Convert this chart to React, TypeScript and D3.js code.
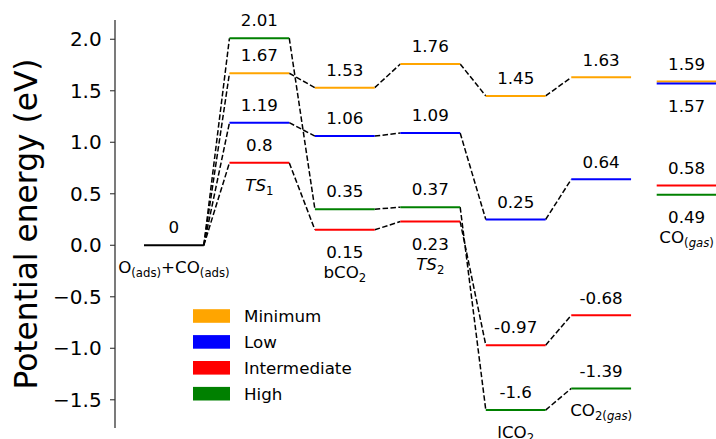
import React from "react";
import * as d3 from "d3";

// Reaction steps along the path
const stepKeys = ["start", "TS1", "bCO2", "TS2", "lCO2", "CO2gas", "COgas"];

// Relative energies (eV) per coverage case
const seriesNames = ["Minimum", "Low", "Intermediate", "High"];
const seriesColors = ["#FFA500", "#0000FF", "#FF0000", "#008000"];
const minimumVals = [0, 1.67, 1.53, 1.76, 1.45, 1.63, 1.59];
const lowVals = [0, 1.19, 1.06, 1.09, 0.25, 0.64, 1.57];
const intermediateVals = [0, 0.8, 0.15, 0.23, -0.97, -0.68, 0.58];
const highVals = [0, 2.01, 0.35, 0.37, -1.6, -1.39, 0.49];

// Where each value label sits: "a" above the level, "b" below, "-" none
const minimumSide = ["-", "a", "a", "a", "a", "a", "a"];
const lowSide = ["-", "a", "a", "a", "a", "a", "b"];
const intermediateSide = ["-", "a", "b", "b", "a", "a", "a"];
const highSide = ["-", "a", "a", "a", "a", "a", "b"];

// Series whose level carries the step name underneath (-1: the shared start level)
const nameUnder = [-1, 2, 2, 2, 3, 3, 3];

const yTicks = [-1.5, -1.0, -0.5, 0.0, 0.5, 1.0, 1.5, 2.0];

type Part = { t: string; sub?: boolean; it?: boolean };
const stepNames: Part[][] = [
  [{ t: "O" }, { t: "(ads)", sub: true }, { t: "+CO" }, { t: "(ads)", sub: true }],
  [{ t: "TS", it: true }, { t: "1", sub: true }],
  [{ t: "bCO" }, { t: "2", sub: true }],
  [{ t: "TS", it: true }, { t: "2", sub: true }],
  [{ t: "lCO" }, { t: "2", sub: true }],
  [{ t: "CO" }, { t: "2(", sub: true }, { t: "gas", sub: true, it: true }, { t: ")", sub: true }],
  [{ t: "CO" }, { t: "(", sub: true }, { t: "gas", sub: true, it: true }, { t: ")", sub: true }],
];

const FONT = "'DejaVu Sans', sans-serif";
const LABEL_SIZE = 16.7;
const SUB_SIZE = 11.7;
const SUB_SHIFT = 4;

function RichText({ parts, x, y }: { parts: Part[]; x: number; y: number }) {
  let shift = 0;
  return (
    <text x={x} y={y} textAnchor="middle" fontSize={LABEL_SIZE} fontFamily={FONT} fill="#000">
      {parts.map((p, i) => {
        const target = p.sub ? SUB_SHIFT : 0;
        const dy = target - shift;
        shift = target;
        return (
          <tspan
            key={i}
            dy={dy}
            fontSize={p.sub ? SUB_SIZE : LABEL_SIZE}
            fontStyle={p.it ? "italic" : "normal"}
          >
            {p.t}
          </tspan>
        );
      })}
    </text>
  );
}

export default function App() {
  const width = 716;
  const height = 439;

  const series = [minimumVals, lowVals, intermediateVals, highVals];
  const sides = [minimumSide, lowSide, intermediateSide, highSide];

  const x = d3.scaleLinear().domain([0, 1]).range([144, 229.45]);
  const y = d3.scaleLinear().domain([-1.774, 2.187]).range([428, 20]);
  const levelWidth = 0.7;
  const fmtTick = d3.format(".1f");

  const spineX = 115;

  const connectors: React.ReactNode[] = [];
  const levels: React.ReactNode[] = [];
  const labels: React.ReactNode[] = [];

  series.forEach((vals, s) => {
    vals.forEach((v, i) => {
      if (i > 0) {
        levels.push(
          <line
            key={`lv-${s}-${i}`}
            x1={x(i)}
            x2={x(i + levelWidth)}
            y1={y(v)}
            y2={y(v)}
            stroke={seriesColors[s]}
            strokeWidth={2}
          />
        );
      }
      // no connector into the final gas-phase step
      if (i < vals.length - 2) {
        connectors.push(
          <line
            key={`cn-${s}-${i}`}
            x1={x(i + levelWidth)}
            x2={x(i + 1)}
            y1={y(v)}
            y2={y(vals[i + 1])}
            stroke="#000"
            strokeWidth={1.5}
            strokeDasharray="5.5,2.4"
          />
        );
      }
    });
  });

  // shared starting level
  levels.push(
    <line key="lv-start" x1={x(0)} x2={x(levelWidth)} y1={y(0)} y2={y(0)} stroke="#000" strokeWidth={2} />
  );

  const cx = (i: number) => x(i + levelWidth / 2);
  const ABOVE = 11.8;
  const BELOW = 28;
  const LINE = 20;

  labels.push(
    <text key="v-start" x={cx(0)} y={y(0) - ABOVE} textAnchor="middle" fontSize={LABEL_SIZE} fontFamily={FONT}>
      {String(0)}
    </text>
  );

  stepKeys.forEach((_, i) => {
    if (i === 0) return;
    series.forEach((vals, s) => {
      const side = sides[s][i];
      const ly = y(vals[i]);
      if (side === "a") {
        labels.push(
          <text key={`v-${s}-${i}`} x={cx(i)} y={ly - ABOVE} textAnchor="middle" fontSize={LABEL_SIZE} fontFamily={FONT}>
            {String(vals[i])}
          </text>
        );
      } else if (side === "b") {
        labels.push(
          <text key={`v-${s}-${i}`} x={cx(i)} y={ly + BELOW} textAnchor="middle" fontSize={LABEL_SIZE} fontFamily={FONT}>
            {String(vals[i])}
          </text>
        );
      }
    });
  });

  stepKeys.forEach((key, i) => {
    const s = nameUnder[i];
    const v = s < 0 ? 0 : series[s][i];
    const hasValueBelow = s >= 0 && sides[s][i] === "b";
    const ny = y(v) + BELOW + (hasValueBelow ? LINE : 0);
    labels.push(<RichText key={`n-${key}`} parts={stepNames[i]} x={cx(i)} y={ny} />);
  });

  return (
    <svg
      width={width}
      height={height}
      style={{ position: "fixed", left: 0, top: 0, background: "#fff" }}
      fontFamily={FONT}
    >
      <rect x={0} y={0} width={width} height={height} fill="#fff" />
      {/* y axis */}
      <line x1={spineX} x2={spineX} y1={y.range()[1]} y2={y.range()[0]} stroke="#333" strokeWidth={1.3} />
      {yTicks.map((t) => (
        <g key={`t-${t}`}>
          <line x1={spineX - 5} x2={spineX} y1={y(t)} y2={y(t)} stroke="#333" strokeWidth={1.1} />
          <text x={spineX - 13.3} y={y(t)} dy="0.36em" textAnchor="end" fontSize={20} fontFamily={FONT} fill="#000">
            {fmtTick(t)}
          </text>
        </g>
      ))}
      <text
        x={36.7}
        y={224}
        transform="rotate(-90 36.7 224)"
        textAnchor="middle"
        fontSize={31.3}
        fontFamily={FONT}
        fill="#000"
      >
        Potential energy (eV)
      </text>

      {connectors}
      {levels}
      {labels}

      {/* legend */}
      {seriesNames.map((name, i) => {
        const cy = 316 + i * 25.9;
        return (
          <g key={`lg-${name}`}>
            <rect x={193} y={cy - 6.8} width={37} height={13.6} fill={seriesColors[i]} />
            <text x={244} y={cy} dy="0.36em" fontSize={LABEL_SIZE} fontFamily={FONT} fill="#000">
              {name}
            </text>
          </g>
        );
      })}
    </svg>
  );
}
